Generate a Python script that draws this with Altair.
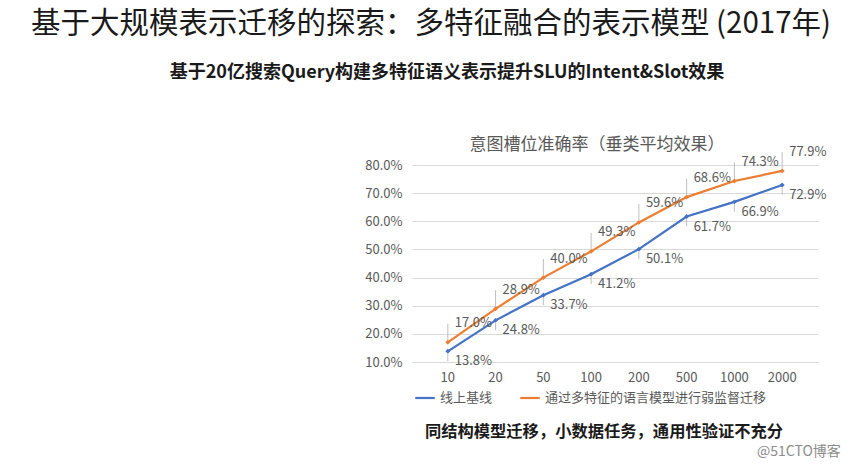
import altair as alt
import pandas as pd

categories = ["10", "20", "50", "100", "200", "500", "1000", "2000"]
baseline = [13.8, 24.8, 33.7, 41.2, 50.1, 61.7, 66.9, 72.9]
transfer = [17.0, 28.9, 40.0, 49.3, 59.6, 68.6, 74.3, 77.9]
series_names = ["线上基线", "通过多特征的语言模型进行弱监督迁移"]
y_ticks = [10, 20, 30, 40, 50, 60, 70, 80]

main_title = "基于大规模表示迁移的探索：多特征融合的表示模型 (2017年)"
sub_title = "基于20亿搜索Query构建多特征语义表示提升SLU的Intent&Slot效果"
chart_title = "意图槽位准确率（垂类平均效果）"
bottom_note = "同结构模型迁移，小数据任务，通用性验证不充分"
watermark = "@51CTO博客"

rows = []
for c, v in zip(categories, baseline):
    rows.append({"n": c, "acc": v / 100, "series": series_names[0]})
for c, v in zip(categories, transfer):
    rows.append({"n": c, "acc": v / 100, "series": series_names[1]})
df = pd.DataFrame(rows)

FONT = "Noto Sans CJK SC"
GREY = "#595959"
W, H = 406, 197

yscale = alt.Scale(domain=[0.1, 0.8], nice=False, zero=False)
yaxis = alt.Axis(title=None, values=[t / 100 for t in y_ticks], format=".1%",
                 grid=True, gridColor="#d9d9d9", gridWidth=1, domain=False,
                 ticks=False, labelOverlap=False,
                 labelPadding=10, labelFontSize=13, labelColor=GREY,
                 labelFont=FONT)
x = alt.X("n:N", sort=categories, scale=alt.Scale(padding=0.5),
          axis=alt.Axis(title=None, labelAngle=0, ticks=False, labelPadding=9,
                        labelFontSize=13, labelColor=GREY, labelFont=FONT,
                        domainColor="#d9d9d9"))
y = alt.Y("acc:Q", scale=yscale, axis=yaxis)
cscale = alt.Scale(domain=series_names, range=["#4472C4", "#ED7D31"])

base = alt.Chart(df)

lines = base.mark_line(strokeWidth=2.2).encode(
    x=x, y=y,
    color=alt.Color("series:N", scale=cscale, sort=series_names,
                    legend=alt.Legend(title=None, orient="none", legendX=2, legendY=222,
                                      direction="horizontal", symbolType="stroke",
                                      symbolSize=380, symbolStrokeWidth=2.2,
                                      labelFontSize=13, labelColor=GREY, labelFont=FONT,
                                      labelLimit=400, columnPadding=22, labelOffset=4)))
points = base.mark_point(filled=True, size=24, shape="diamond", opacity=1).encode(
    x=x, y=y, color=alt.Color("series:N", scale=cscale, legend=None))

orange_lbl = base.transform_filter(alt.datum.series == series_names[1]).mark_text(
    align="left", baseline="middle", dx=7, dy=-19, fontSize=13, color=GREY, font=FONT
).encode(x=x, y=y, text=alt.Text("acc:Q", format=".1%"))
blue_lbl = base.transform_filter(alt.datum.series == series_names[0]).mark_text(
    align="left", baseline="middle", dx=7, dy=10, fontSize=13, color=GREY, font=FONT
).encode(x=x, y=y, text=alt.Text("acc:Q", format=".1%"))

orange_lead = base.transform_filter(alt.datum.series == series_names[1]).transform_calculate(
    y1="datum.acc + 0.008", y2="datum.acc + 0.066"
).mark_rule(color="#bfbfbf", strokeWidth=1).encode(
    x=x, y=alt.Y("y1:Q", scale=yscale, axis=yaxis), y2="y2:Q")
blue_lead = base.transform_filter(alt.datum.series == series_names[0]).transform_calculate(
    y1="datum.acc - 0.008", y2="datum.acc - 0.035"
).mark_rule(color="#bfbfbf", strokeWidth=1).encode(
    x=x, y=alt.Y("y1:Q", scale=yscale, axis=yaxis), y2="y2:Q")


def text_layer(txt, px, py, size, color="#000000", weight="normal", align="center"):
    return alt.Chart(pd.DataFrame({"t": [txt]})).mark_text(
        font=FONT, fontSize=size, color=color, fontWeight=weight, align=align,
        baseline="middle"
    ).encode(x=alt.value(px), y=alt.value(py), text="t:N")


texts = [
    text_layer(main_title, 19, -141, 29.5, "#1a1a1a"),
    text_layer(sub_title, 35, -92, 18, "#1a1a1a", "bold"),
    text_layer(chart_title, 185, -20, 17, GREY),
    text_layer(bottom_note, 192, 267, 16.3, "#1a1a1a", "bold"),
    text_layer(watermark, 345, 287, 14, "#8c8c8c", align="left"),
]

chart = alt.layer(lines, points, blue_lead, orange_lead, orange_lbl, blue_lbl, *texts).properties(
    width=W, height=H,
    autosize=alt.AutoSizeParams(type="none"),
    padding={"left": 412, "top": 165, "right": 46, "bottom": 106},
    background="white",
).configure_view(stroke=None)

chart.save("out.html", embed_options={"renderer": "svg", "actions": False})
